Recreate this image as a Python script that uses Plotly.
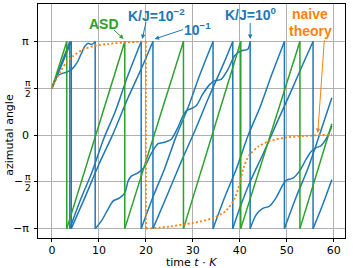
import numpy as np
import plotly.graph_objects as go

PI = np.pi

# ---------------- data ----------------
t_asd = [0, 3.15, 3.15, 15.5, 15.5, 28.0, 28.0, 40.2, 40.2, 52.8, 52.8, 59.6]
phi_asd = [PI / 2, PI, -PI, PI, -PI, PI, -PI, PI, -PI, PI, -PI, 0.38]

t_k2 = [0, 1.9, 3.8, 3.8, 6, 8.5, 11, 13.5, 16, 19, 19, 21.5, 24, 26.5, 29, 31.5, 34.3,
        34.3, 36.8, 39.3, 41.8, 44.3, 46.8, 49.5, 49.5, 52, 54.5, 57, 59.6]
phi_k2 = [1.571, 2.36, PI, -PI, -2.20, -1.25, -0.13, 0.80, 1.93, PI, -PI, -2.08, -1.12, -0.02,
          0.93, 2.03, PI, -PI, -2.08, -1.12, 0.0, 0.93, 2.03, PI, -PI, -2.08, -1.12, 0.02, 1.25]

t_k1 = [0, 2, 4.1, 4.1, 7, 10, 13, 16, 19, 21.5, 21.5, 24.5, 27.5, 30.5, 33.5, 36.5, 38.5,
        38.5, 40, 42.1, 45, 48, 51, 53.5, 55.6, 55.6, 57.5, 59.6]
phi_k1 = [1.571, 2.33, PI, -PI, -2.10, -0.98, 0.04, 1.18, 2.22, PI, -PI, -2.03, -0.90, 0.17,
          1.31, 2.38, PI, -PI, -2.45, -1.6, -0.62, 0.45, 1.5, 2.4, PI, -PI, -2.4, -1.5]

t_k0 = [0, 0.6, 1.3, 2.2, 3.3, 4.3, 5.3, 6.2, 7.0, 7.7, 8.3, 8.9, 9.2,
        9.2, 10.5, 11.9, 13.0, 14.4, 15.5, 16.2, 16.9, 18.3, 19.7, 21.2, 22.6, 24.0, 25.4,
        26.8, 27.9, 28.6, 29.7, 30.7, 32.1, 33.6, 34.6, 36.0, 37.5, 38.9, 40.3, 41.7, 42.2,
        42.2, 43.5, 44.9, 46.3, 47.7, 49.2, 49.9, 51.3, 52.7, 54.1, 55.2, 56.3, 57.3, 58.7, 59.6]
phi_k0 = [1.571, 1.85, 2.0, 2.07, 2.12, 2.22, 2.42, 2.72, 2.98, 3.08, 3.04, 3.08, PI,
          -PI, -2.89, -2.5, -2.22, -2.11, -1.94, -1.55, -1.38, -1.27, -1.07, -0.6, -0.29, -0.24, -0.14,
          0.25, 0.64, 0.81, 0.89, 0.98, 1.37, 1.70, 1.82, 1.87, 2.21, 2.66, 2.83, 2.88, PI,
          -PI, -2.67, -2.46, -2.39, -2.11, -1.66, -1.52, -1.45, -1.21, -0.82, -0.55, -0.42, -0.36, -0.04, 0.3]

t_naive = [0, 1, 2, 3, 4.5, 6.5, 9, 12, 16, 20, 20, 25, 30, 34, 37, 39, 40, 40.8, 42, 44, 46, 50, 55, 59.6]
phi_naive = [1.571, 1.9, 2.18, 2.42, 2.65, 2.86, 2.99, 3.06, 3.11, PI, -PI, -3.07, -2.95, -2.8,
             -2.55, -2.1, -1.6, -1.1, -0.68, -0.38, -0.22, -0.08, -0.02, 0.02]

x_ticks = [0, 10, 20, 30, 40, 50, 60]
y_ticks = [-PI, -PI / 2, 0, PI / 2, PI]

BLUE = "#1f77b4"
GREEN = "#2ca02c"
ORANGE = "#ff7f0e"


def split(t, p):
    st, sp, vt, vp = [], [], [], []
    for i in range(len(t)):
        if i > 0 and t[i] == t[i - 1] and abs(p[i] - p[i - 1]) > 3:
            st.append(None); sp.append(None)
            vt += [t[i - 1], t[i], None]
            vp += [p[i - 1], p[i], None]
        st.append(t[i]); sp.append(p[i])
    return st, sp, vt, vp


fig = go.Figure()
series = [
    (t_k2, phi_k2, BLUE, "solid", 1.5),
    (t_k1, phi_k1, BLUE, "solid", 1.5),
    (t_k0, phi_k0, BLUE, "solid", 1.5),
    (t_asd, phi_asd, GREEN, "solid", 1.5),
    (t_naive, phi_naive, ORANGE, "2px,2.2px", 1.8),
]
for t, p, c, d, w in series:
    st, sp, vt, vp = split(t, p)
    fig.add_trace(go.Scatter(x=st, y=sp, mode="lines", showlegend=False, hoverinfo="skip",
                             line=dict(color=c, dash=d, width=w, shape="spline", smoothing=0.8)))
    fig.add_trace(go.Scatter(x=vt, y=vp, mode="lines", showlegend=False, hoverinfo="skip",
                             line=dict(color=c, dash=d, width=w)))

TICKFONT = dict(family="DejaVu Sans", size=11, color="black")
ANNFONT = "Liberation Sans"

ann = []


def txt(x, y, s, color):
    ann.append(dict(x=x, y=y, xref="x", yref="y", text="<b>" + s + "</b>", showarrow=False,
                    font=dict(family=ANNFONT, size=14, color=color), xanchor="center", yanchor="middle"))


txt(11.13, 3.735, "ASD", GREEN)
txt(22.17, 4.03, "K/J=10<sup>−2</sup>", BLUE)
txt(31.06, 3.57, "10<sup>−1</sup>", BLUE)
txt(42.28, 4.06, "K/J=10<sup>0</sup>", BLUE)
txt(55.04, 4.07, "naive", ORANGE)
txt(55.15, 3.50, "theory", ORANGE)


def arrow(hx, hy, tx, ty, color):
    ann.append(dict(x=hx, y=hy, ax=tx, ay=ty, xref="x", yref="y", axref="x", ayref="y",
                    text="", showarrow=True, arrowhead=2, arrowsize=0.9, arrowwidth=1,
                    arrowcolor=color, standoff=0, startstandoff=0))


arrow(15.26, 3.222, 12.91, 3.567, GREEN)
arrow(19.23, 3.222, 20.09, 3.846, BLUE)
arrow(21.85, 3.222, 28.23, 3.557, BLUE)
arrow(42.21, 3.222, 42.21, 3.812, BLUE)
arrow(56.6, 0.069, 58.02, 3.232, ORANGE)

XR = -0.0228


def ylab(y, s, x=XR, anchor="right", size=11, shift=0):
    ann.append(dict(x=x, y=y, xref="paper", yref="y", text=s, showarrow=False,
                    font=dict(family="DejaVu Sans", size=size, color="black"),
                    xanchor=anchor, yanchor="middle", yshift=shift))


ylab(y_ticks[4], "π")
ylab(y_ticks[2], "0")
ylab(y_ticks[0], "−π")
shapes = []
for v, neg in [(y_ticks[3], False), (y_ticks[1], True)]:
    ylab(v, "π", x=-0.0336, anchor="center", size=9, shift=5)
    ylab(v, "2", x=-0.0336, anchor="center", size=9, shift=-6)
    shapes.append(dict(type="line", xref="paper", yref="y", x0=-0.0434, x1=-0.0235, y0=v, y1=v,
                       line=dict(color="black", width=0.8)))
    if neg:
        ylab(v, "−", x=-0.063, anchor="center", size=11)

ann.append(dict(x=0.5, y=-0.1047, xref="paper", yref="paper", text="time <i>t</i> · <i>K</i>",
                showarrow=False, font=TICKFONT, xanchor="center", yanchor="middle", borderpad=0))
ann.append(dict(x=-0.0955, y=0, xref="paper", yref="y", text="azimutal angle", textangle=-90,
                showarrow=False, font=TICKFONT, xanchor="center", yanchor="middle"))

axis_common = dict(showline=True, mirror=True, linecolor="black", linewidth=0.8,
                   ticks="outside", ticklen=3.5, tickwidth=0.8, tickcolor="black",
                   showgrid=True, gridcolor="#b0b0b0", gridwidth=0.8, zeroline=False)

fig.update_layout(
    width=353, height=268,
    margin=dict(l=38, r=8, t=4, b=30),
    paper_bgcolor="white", plot_bgcolor="white",
    xaxis=dict(range=[-2.98, 62.4], tickvals=x_ticks, ticktext=[str(v) for v in x_ticks],
               tickfont=TICKFONT, ticklabelstandoff=-2, **axis_common),
    yaxis=dict(range=[-1.1 * PI, 1.4 * PI], tickvals=y_ticks, ticktext=[""] * 5, **axis_common),
    annotations=ann, shapes=shapes,
)

fig.write_html("out.html", config={"displayModeBar": False},
               post_script="document.body.style.margin='0';document.body.style.padding='0';")
